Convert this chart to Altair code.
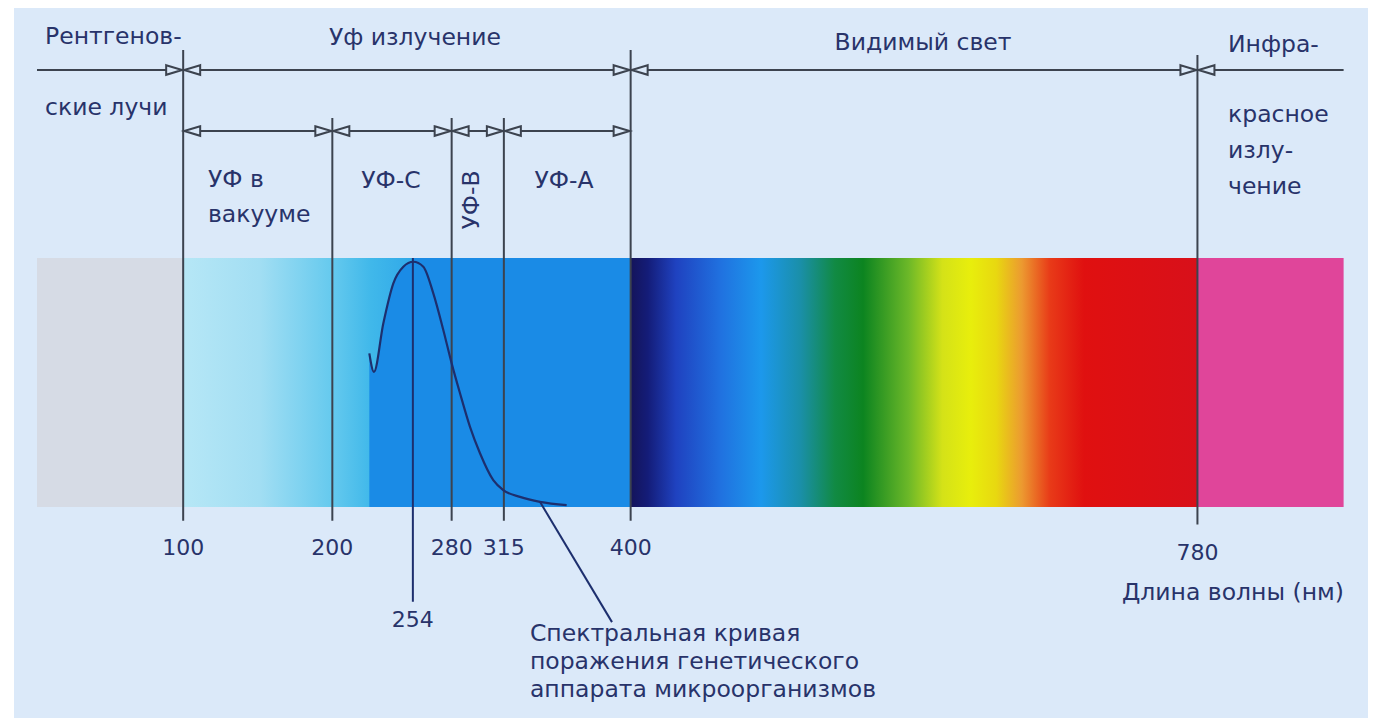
import altair as alt
import pandas as pd

# ---------------- data ----------------
boundary_nm = [100, 200, 280, 315, 400, 780]
tick_labels = ["100", "200", "280", "315", "400", "780"]
peak_nm = [254]
peak_label = ["254"]

band_name = ["Рентгеновские лучи", "УФ", "Видимый свет", "ИК"]
band_start = [2, 100, 400, 780]
band_end = [100, 400, 780, 878]

# spectral curve of damage to the genetic apparatus (relative units, band height = 1)
curve_nm = [224.8, 227.9, 234.2, 240.9, 247.6, 254.3, 261.0, 267.7, 274.4, 280.0,
            285.6, 292.3, 299.0, 307.9, 314.6, 325.8, 339.2, 357.1]
curve_val = [0.617, 0.543, 0.738, 0.898, 0.965, 0.985, 0.965, 0.858, 0.711, 0.577,
             0.457, 0.322, 0.216, 0.108, 0.068, 0.041, 0.021, 0.008]

# ---------------- layout / style ----------------
BG = "#dbe9f9"
TXT = "#28336a"
LINE = "#3c434f"
NAVY = "#1d2f6e"
FONT = "DejaVu Sans"
FS = 23.5
FS_NUM = 22

X_DOM = [-13.42, 894.35]
Y_DOM = [-0.847, 2.004]
xs = alt.Scale(domain=X_DOM, nice=False, zero=False)
ys = alt.Scale(domain=Y_DOM, nice=False, zero=False)

def X(f):
    return alt.X(f, scale=xs, axis=None)

def Y(f):
    return alt.Y(f, scale=ys, axis=None)

bands = pd.DataFrame({"name": band_name, "start": band_start, "end": band_end,
                      "lo": 0.0, "hi": 1.0})

def band_layer(i, color):
    return alt.Chart(bands.iloc[[i]]).mark_rect(color=color).encode(
        x=X("start:Q"), x2="end:Q", y=Y("lo:Q"), y2="hi:Q")

uv_grad = alt.LinearGradient(gradient="linear", x1=0, x2=1, y1=0, y2=0, stops=[
    alt.GradientStop(color="#b6e7f6", offset=0.0),
    alt.GradientStop(color="#a2def3", offset=0.17),
    alt.GradientStop(color="#66caee", offset=0.33),
    alt.GradientStop(color="#40b8ea", offset=0.42),
    alt.GradientStop(color="#2aa2e8", offset=0.55),
    alt.GradientStop(color="#1c86e6", offset=1.0)])

vis_grad = alt.LinearGradient(gradient="linear", x1=0, x2=1, y1=0, y2=0, stops=[
    alt.GradientStop(color="#14145a", offset=0.0),
    alt.GradientStop(color="#141c78", offset=0.03),
    alt.GradientStop(color="#1f42c0", offset=0.08),
    alt.GradientStop(color="#2072e0", offset=0.16),
    alt.GradientStop(color="#1c98ec", offset=0.23),
    alt.GradientStop(color="#1a8fa8", offset=0.30),
    alt.GradientStop(color="#118a44", offset=0.36),
    alt.GradientStop(color="#0c8420", offset=0.41),
    alt.GradientStop(color="#6cb828", offset=0.49),
    alt.GradientStop(color="#d4e218", offset=0.55),
    alt.GradientStop(color="#e8ee0c", offset=0.60),
    alt.GradientStop(color="#e8d810", offset=0.645),
    alt.GradientStop(color="#ec9a30", offset=0.69),
    alt.GradientStop(color="#e83a18", offset=0.74),
    alt.GradientStop(color="#e01010", offset=0.80),
    alt.GradientStop(color="#d8101a", offset=1.0)])

layers = [
    band_layer(0, "#d6dbe5"),
    band_layer(1, uv_grad),
    band_layer(2, vis_grad),
    band_layer(3, "#e0459a"),
]

curve = pd.DataFrame({"nm": curve_nm, "val": curve_val})
curve["base"] = 0.0
peak_i = curve["val"].idxmax()
left = curve.iloc[: peak_i + 1]

layers.append(alt.Chart(left).mark_area(color="#1a8be6", interpolate="monotone").encode(
    x=X("nm:Q"), y=Y("val:Q"), y2="base:Q"))
blue_fill = pd.DataFrame({"start": [curve_nm[peak_i]], "end": [400], "lo": [0.0], "hi": [1.0]})
layers.append(alt.Chart(blue_fill).mark_rect(color="#1a8be6").encode(
    x=X("start:Q"), x2="end:Q", y=Y("lo:Q"), y2="hi:Q"))

# vertical boundary lines
vlines = pd.DataFrame({"nm": boundary_nm,
                       "top": [1.835, 1.562, 1.562, 1.562, 1.835, 1.815],
                       "bot": [-0.055, -0.055, -0.055, -0.055, -0.055, -0.07]})
layers.append(alt.Chart(vlines).mark_rule(color=LINE, strokeWidth=2).encode(
    x=X("nm:Q"), y=Y("top:Q"), y2="bot:Q"))

# 254 line
pk = pd.DataFrame({"nm": peak_nm, "top": [1.0], "bot": [-0.38]})
layers.append(alt.Chart(pk).mark_rule(color=NAVY, strokeWidth=2).encode(
    x=X("nm:Q"), y=Y("top:Q"), y2="bot:Q"))

# curve
layers.append(alt.Chart(curve).mark_line(color=NAVY, strokeWidth=2.2, interpolate="monotone").encode(
    x=X("nm:Q"), y=Y("val:Q")))

# leader line to caption
leader = pd.DataFrame({"nm": [339.2, 387.5], "val": [0.021, -0.462]})
layers.append(alt.Chart(leader).mark_line(color=NAVY, strokeWidth=2).encode(
    x=X("nm:Q"), y=Y("val:Q")))

# horizontal arrow rows
rows = pd.DataFrame({"a": [2, 100], "b": [878, 400], "y": [1.755, 1.51]})
layers.append(alt.Chart(rows).mark_rule(color=LINE, strokeWidth=2).encode(
    x=X("a:Q"), x2="b:Q", y=Y("y:Q")))

right_pts = pd.DataFrame({"nm": [100, 400, 780, 200, 280, 315, 400],
                          "y": [1.755, 1.755, 1.755, 1.51, 1.51, 1.51, 1.51]})
left_pts = pd.DataFrame({"nm": [100, 400, 780, 100, 200, 280, 315],
                         "y": [1.755, 1.755, 1.755, 1.51, 1.51, 1.51, 1.51]})
TRI_R = "M-1,-0.6L1,0L-1,0.6Z"
TRI_L = "M1,-0.6L-1,0L1,0.6Z"
layers.append(alt.Chart(right_pts).mark_point(shape=TRI_R, size=256, filled=True, fill=BG,
                                              stroke=LINE, strokeWidth=2, opacity=1,
                                              xOffset=-9).encode(x=X("nm:Q"), y=Y("y:Q")))
layers.append(alt.Chart(left_pts).mark_point(shape=TRI_L, size=256, filled=True, fill=BG,
                                             stroke=LINE, strokeWidth=2, opacity=1,
                                             xOffset=9).encode(x=X("nm:Q"), y=Y("y:Q")))

# texts
left_txt = pd.DataFrame({
    "t": ["Рентгенов-", "ские лучи", "Инфра-", "красное", "излу-", "чение", "УФ в", "вакууме",
          "Спектральная кривая", "поражения генетического", "аппарата микроорганизмов"],
    "nm": [7.4, 7.4, 800.5, 800.5, 800.5, 800.5, 116.6, 116.6, 332.5, 332.5, 332.5],
    "y": [1.888, 1.602, 1.855, 1.574, 1.43, 1.285, 1.313, 1.173, -0.51, -0.622, -0.735]})
layers.append(alt.Chart(left_txt).mark_text(align="left", baseline="middle", font=FONT,
                                            fontSize=FS, color=TXT).encode(
    x=X("nm:Q"), y=Y("y:Q"), text="t:N"))

center_txt = pd.DataFrame({
    "t": ["Уф излучение", "Видимый свет", "УФ-С", "УФ-А", "Длина волны (нм)"],
    "nm": [255.4, 596.0, 239.3, 355.3, 803.8],
    "y": [1.884, 1.863, 1.309, 1.309, -0.345]})
layers.append(alt.Chart(center_txt).mark_text(align="center", baseline="middle", font=FONT,
                                              fontSize=FS, color=TXT).encode(
    x=X("nm:Q"), y=Y("y:Q"), text="t:N"))

num_txt = pd.DataFrame({
    "t": peak_label + tick_labels,
    "nm": peak_nm + boundary_nm,
    "y": [-0.454] + [-0.165] * 5 + [-0.185]})
layers.append(alt.Chart(num_txt).mark_text(align="center", baseline="middle", font=FONT,
                                           fontSize=FS_NUM, color=TXT).encode(
    x=X("nm:Q"), y=Y("y:Q"), text="t:N"))

rot_txt = pd.DataFrame({"t": ["УФ-В"], "nm": [293.6], "y": [1.233]})
layers.append(alt.Chart(rot_txt).mark_text(align="center", baseline="middle", font=FONT,
                                           fontSize=FS, color=TXT, angle=270).encode(
    x=X("nm:Q"), y=Y("y:Q"), text="t:N"))

chart = alt.layer(*layers).properties(
    width=1354, height=710, background="white", autosize="none",
    padding={"left": 6, "top": 0, "right": 0, "bottom": 0}
).configure_view(stroke=None, fill=BG)

chart.save("out.html", embed_options={"renderer": "svg", "actions": False})
